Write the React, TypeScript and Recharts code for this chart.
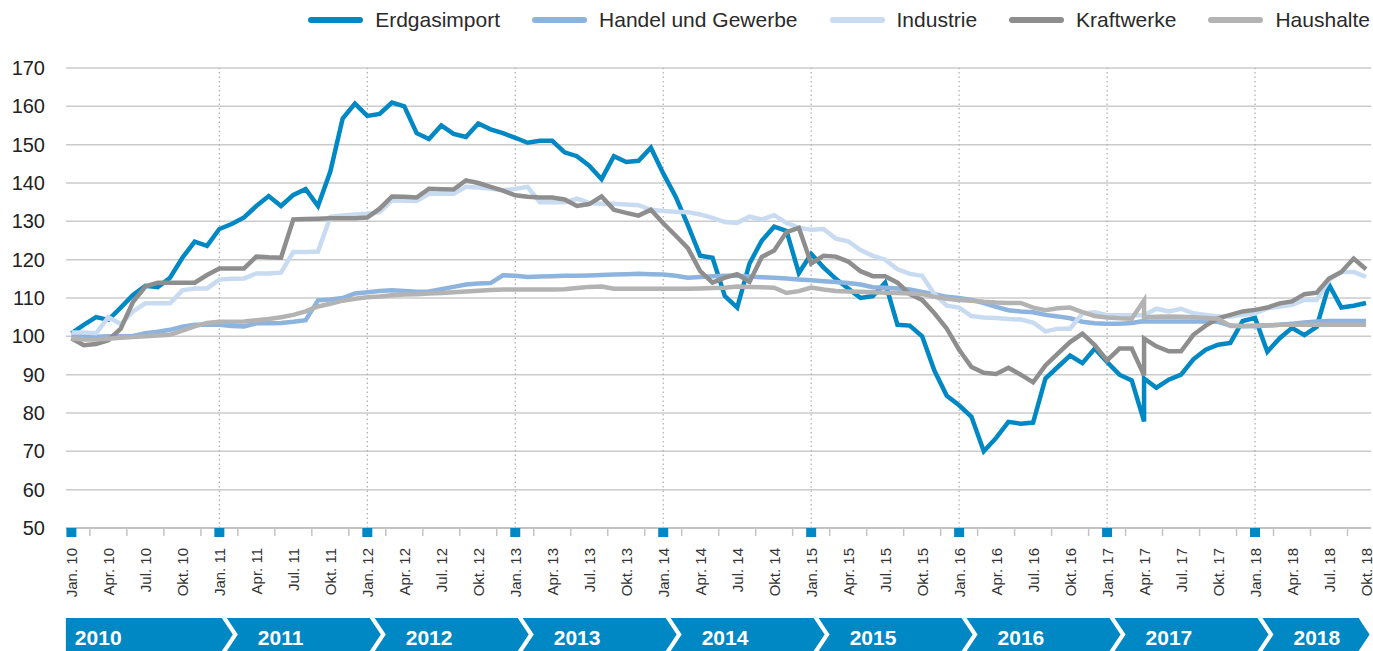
import React from 'react'
import { LineChart, Line, XAxis, YAxis, CartesianGrid, ReferenceLine, ReferenceArea } from 'recharts'

const BLUE = '#0088c5'
const FONT = "'Liberation Sans', Arial, sans-serif"

const years = ['2010', '2011', '2012', '2013', '2014', '2015', '2016', '2017', '2018']
const quarterNames = ['Jan.', 'Apr.', 'Jul.', 'Okt.']
const yTicks = [50, 60, 70, 80, 90, 100, 110, 120, 130, 140, 150, 160, 170]

// months counted from Jan. 10; Apr. 17 (87) is listed twice, the series jump there
const months = [
  ...Array.from({ length: 88 }, (_, i) => i),
  87,
  ...Array.from({ length: 18 }, (_, i) => 88 + i),
]

const erdgasimport = [
  100.8, 103, 105, 104.3, 107.5, 110.8, 113.2, 112.8, 115.3, 120.5,
  124.7, 123.6, 128, 129.3, 131, 134, 136.6, 134, 136.9, 138.4,
  134, 143, 156.8, 160.7, 157.5, 158, 161, 160, 153, 151.5,
  155, 152.8, 152, 155.5, 154, 153, 151.8, 150.5, 151, 151,
  148, 147, 144.5, 141, 147, 145.5, 145.8, 149.2, 142.5, 136.5,
  129, 121, 120.5, 110.5, 107.5, 119, 125, 128.6, 127.5, 116.5,
  121.5, 118, 115, 112.5, 110, 110.5, 114, 103, 102.8, 100,
  91, 84.5, 82, 79, 70, 73.5, 77.7, 77.2, 77.5, 89,
  92, 95, 93, 96.8, 93.3, 90, 88.5,
  77.8, 89,
  86.6, 88.7, 90, 94, 96.5, 97.8, 98.3, 104,
  104.8, 96, 99.5, 102.2, 100.3, 102.5, 113.5, 107.5, 108, 108.7,
]

const handel = [
  100.3, 100, 99.9, 100, 100, 100.1, 100.8, 101.2, 101.7, 102.5,
  103, 103, 103, 102.7, 102.6, 103.4, 103.4, 103.5, 103.8, 104.2,
  109.4, 109.6, 110, 111.2, 111.5, 111.8, 112, 111.8, 111.6, 111.7,
  112.3, 112.9, 113.5, 113.8, 113.9, 115.9, 115.8, 115.5, 115.6, 115.7,
  115.8, 115.8, 115.9, 116, 116.1, 116.2, 116.3, 116.2, 116.1, 115.8,
  115.3, 115.5, 115.7, 115.8, 115.8, 115.6, 115.4, 115.3, 115.1, 114.8,
  114.6, 114.4, 114.2, 113.9, 113.5, 112.8, 112.7, 112.5, 112.2, 111.6,
  111, 110.3, 110, 109.5, 108.7, 107.7, 106.8, 106.5, 106.3, 105.6,
  105.2, 104.7, 103.8, 103.4, 103.3, 103.3, 103.5,
  104, 103.9,
  103.9, 103.9, 103.9, 103.9, 103.9, 103.8, 102.8, 102.6,
  102.6, 102.8, 103, 103.3, 103.6, 103.9, 104, 104, 104, 104,
]

const industrie = [
  101, 101, 100.8, 105, 103.2, 106.5, 108.6, 108.6, 108.6, 112,
  112.5, 112.5, 114.8, 115, 115.1, 116.4, 116.4, 116.6, 122, 122,
  122.1, 131.2, 131.5, 131.8, 132, 132.4, 135.5, 135.4, 135.3, 137.2,
  137.2, 137.2, 139, 138.8, 138.5, 138.1, 138.5, 139, 135, 135,
  135, 135.9, 134.8, 134.6, 134.6, 134.4, 134.2, 133, 132.7, 132.5,
  132.4, 131.8, 130.9, 129.8, 129.6, 131.2, 130.5, 131.6, 129.6, 128.3,
  127.8, 128, 125.5, 124.8, 122.5, 121, 120, 117.5, 116.3, 115.8,
  111, 108, 107.5, 105.3, 104.9, 104.8, 104.5, 104.4, 103.6, 101.3,
  102, 102, 106, 106.3, 105.5, 105.5, 105.5,
  105.5, 105.5,
  107.2, 106.5, 107.2, 106, 105.6, 105.2, 105.2, 105.6,
  106, 107.3, 107.8, 108.2, 109.5, 109.5, 114.7, 116.8, 116.8, 115.5,
]

const kraftwerke = [
  99.5, 97.7, 98, 99, 102, 109, 113, 114, 114, 114,
  114, 116, 117.7, 117.7, 117.7, 120.8, 120.6, 120.5, 130.5, 130.6,
  130.7, 130.8, 130.8, 130.8, 131, 133.3, 136.5, 136.4, 136.2, 138.5,
  138.4, 138.3, 140.7, 140, 139, 138, 136.8, 136.4, 136.2, 136.2,
  135.7, 134, 134.5, 136.5, 133, 132.2, 131.5, 133, 129.5, 126.3,
  123, 117, 114, 115.3, 116.2, 114.2, 120.7, 122.4, 127.2, 128.3,
  119, 121, 120.8, 119.5, 117, 115.7, 115.7, 114, 111, 109.5,
  106, 102, 96.5, 92, 90.5, 90.2, 91.8, 90, 88, 92.4,
  95.5, 98.5, 100.7, 97.7, 93.7, 96.8, 96.8,
  89.8, 99.4,
  97.4, 96.1, 96.1, 100.4, 102.8, 104.7, 105.6, 106.5,
  106.9, 107.5, 108.6, 109.1, 111, 111.4, 115.1, 116.8, 120.3, 117.5,
]

const haushalte = [
  99.5, 99.2, 99.2, 99.4, 99.6, 99.8, 100, 100.2, 100.4, 101.5,
  102.6, 103.5, 103.8, 103.8, 103.9, 104.2, 104.5, 105, 105.6, 106.5,
  107.8, 108.5, 109.3, 109.8, 110.2, 110.4, 110.7, 110.9, 111, 111.2,
  111.3, 111.5, 111.7, 111.9, 112.1, 112.2, 112.2, 112.2, 112.2, 112.2,
  112.3, 112.6, 112.9, 113, 112.4, 112.4, 112.4, 112.4, 112.4, 112.4,
  112.4, 112.5, 112.6, 112.7, 113, 112.9, 112.8, 112.7, 111.3, 111.8,
  112.7, 112.2, 111.8, 111.7, 111.6, 111.5, 111.4, 111.3, 111.2, 111,
  110.3, 109.8, 109.5, 109.3, 109, 108.8, 108.7, 108.7, 107.5, 106.8,
  107.3, 107.5, 106.3, 105.3, 104.9, 104.7, 104.6,
  109.4, 105,
  105.1, 105.2, 105.1, 105, 104.8, 104.6, 102.7, 102.7,
  102.8, 102.9, 103, 103, 103, 103, 103, 103, 103, 103,
]

const series = [
  { key: 'erdgasimport', name: 'Erdgasimport', color: BLUE },
  { key: 'handel', name: 'Handel und Gewerbe', color: '#8db4de' },
  { key: 'industrie', name: 'Industrie', color: '#c8dbf0' },
  { key: 'kraftwerke', name: 'Kraftwerke', color: '#8e8e8e' },
  { key: 'haushalte', name: 'Haushalte', color: '#b3b3b3' },
]

const rows = months.map((t, k) => ({
  t,
  erdgasimport: erdgasimport[k],
  handel: handel[k],
  industrie: industrie[k],
  kraftwerke: kraftwerke[k],
  haushalte: haushalte[k],
}))

// quarter labels plus small marks half way between them
const xTicks: number[] = []
for (let m = 0; m <= 105; m += 1.5) xTicks.push(m)
const yearStarts = years.map((_, k) => k * 12)

function MonthTick(props: any) {
  const { x, y, payload } = props
  const m = payload.value
  if (m % 3 !== 0) {
    return <line x1={x} x2={x} y1={y} y2={y + 8} stroke="#c4c4c4" strokeWidth={1.5} />
  }
  const label = `${quarterNames[(m % 12) / 3]} ${years[Math.floor(m / 12)].slice(2)}`
  const ty = y + 20
  return (
    <g>
      {m % 12 === 0 && <rect x={x - 5} y={y} width={10} height={9} fill={BLUE} />}
      <text
        x={x}
        y={ty}
        transform={`rotate(-90 ${x} ${ty})`}
        textAnchor="end"
        dominantBaseline="central"
        fontSize={15}
        fill="#333"
      >
        {label}
      </text>
    </g>
  )
}

function YearShape(props: any) {
  const { x, y, width, height, year, first } = props
  const gap = 5
  const depth = 11
  const left = first ? x : x + gap
  const right = x + width
  const mid = y + height / 2
  const pts = [
    [left, y],
    [right, y],
    [right + depth, mid],
    [right, y + height],
    [left, y + height],
    ...(first ? [] : [[left + depth, mid]]),
  ]
    .map((p) => p.join(','))
    .join(' ')
  return (
    <g>
      <polygon points={pts} fill={BLUE} />
      <text
        x={left + (first ? 9 : 31)}
        y={mid + 3}
        dominantBaseline="central"
        fill="#fff"
        fontSize={21}
        fontWeight="bold"
      >
        {year}
      </text>
    </g>
  )
}

function LegendRow() {
  return (
    <div
      style={{
        position: 'absolute',
        top: 8,
        right: 3,
        display: 'flex',
        alignItems: 'center',
        fontSize: 21,
        color: '#2a2a2a',
      }}
    >
      {series.map((s) => (
        <div key={s.key} style={{ display: 'flex', alignItems: 'center', marginLeft: 32 }}>
          <span
            style={{
              display: 'inline-block',
              width: 55,
              height: 6,
              borderRadius: 3,
              background: s.color,
              marginRight: 12,
            }}
          />
          <span>{s.name}</span>
        </div>
      ))}
    </div>
  )
}

export default function App() {
  return (
    <div
      style={{
        position: 'absolute',
        left: 0,
        top: 0,
        width: 1373,
        height: 651,
        background: '#fff',
        fontFamily: FONT,
        overflow: 'hidden',
      }}
    >
      <LegendRow />
      <LineChart width={1373} height={651} data={rows} margin={{ top: 68, right: 2, bottom: 0, left: 0 }}>
        <CartesianGrid vertical={false} stroke="#cbcbcb" strokeWidth={1.5} />
        <XAxis
          dataKey="t"
          type="number"
          domain={[0, 105]}
          ticks={xTicks}
          interval={0}
          padding={{ left: 5.4, right: 5 }}
          height={123}
          tickLine={false}
          tickSize={0}
          tickMargin={0}
          axisLine={{ stroke: '#bdbdbd', strokeWidth: 1.5 }}
          tick={<MonthTick />}
        />
        <YAxis
          type="number"
          domain={[50, 170]}
          ticks={yTicks}
          interval={0}
          allowDataOverflow
          width={66}
          axisLine={false}
          tickLine={false}
          tickSize={0}
          tickMargin={21}
          tick={{ fontSize: 20, fill: '#222' }}
        />
        {yearStarts.slice(1).map((m) => (
          <ReferenceLine key={m} x={m} stroke="#ababab" strokeDasharray="1.5 3" strokeWidth={1.2} />
        ))}
        {series.map((s) => (
          <Line
            key={s.key}
            type="linear"
            dataKey={s.key}
            name={s.name}
            stroke={s.color}
            strokeWidth={4.5}
            dot={false}
            activeDot={false}
            isAnimationActive={false}
          />
        ))}
        {years.map((yr, k) => (
          <ReferenceArea
            key={yr}
            x1={k === 0 ? -0.45 : yearStarts[k] + 0.2}
            x2={k === years.length - 1 ? 104.4 : yearStarts[k] + 12.2}
            y1={17.9}
            y2={26.5}
            ifOverflow="visible"
            shape={(p: any) => <YearShape {...p} year={yr} first={k === 0} />}
          />
        ))}
      </LineChart>
    </div>
  )
}
